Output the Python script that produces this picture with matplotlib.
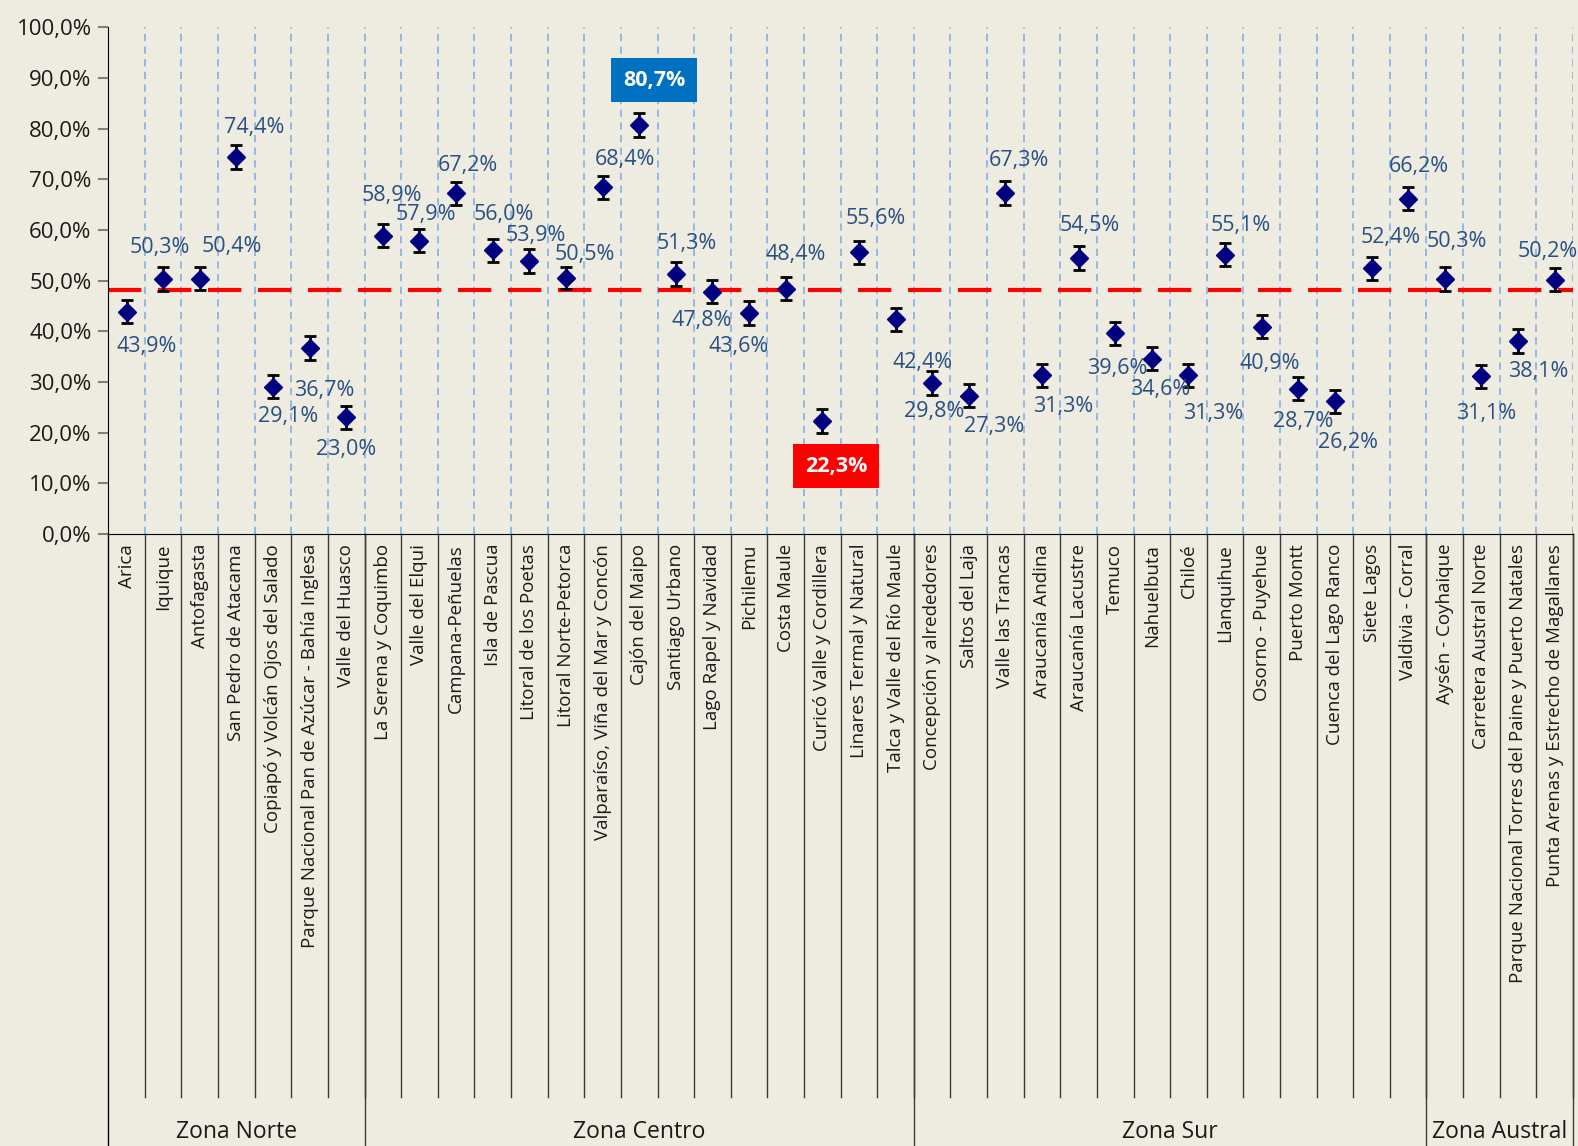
import matplotlib.pyplot as plt
import matplotlib.transforms as mtransforms
from matplotlib.ticker import FuncFormatter

categories = ["Arica", "Iquique", "Antofagasta", "San Pedro de Atacama",
              "Copiapó y Volcán Ojos del Salado", "Parque Nacional Pan de Azúcar - Bahía Inglesa",
              "Valle del Huasco", "La Serena y Coquimbo", "Valle del Elqui", "Campana-Peñuelas",
              "Isla de Pascua", "Litoral de los Poetas", "Litoral Norte-Petorca",
              "Valparaíso, Viña del Mar y Concón", "Cajón del Maipo", "Santiago Urbano",
              "Lago Rapel y Navidad", "Pichilemu", "Costa Maule", "Curicó Valle y Cordillera",
              "Linares Termal y Natural", "Talca y Valle del Río Maule", "Concepción y alrededores",
              "Saltos del Laja", "Valle las Trancas", "Araucanía Andina", "Araucanía Lacustre",
              "Temuco", "Nahuelbuta", "Chiloé", "Llanquihue", "Osorno - Puyehue", "Puerto Montt",
              "Cuenca del Lago Ranco", "Siete Lagos", "Valdivia - Corral", "Aysén - Coyhaique",
              "Carretera Austral Norte", "Parque Nacional Torres del Paine y Puerto Natales",
              "Punta Arenas y Estrecho de Magallanes"]

values = [43.9, 50.3, 50.4, 74.4, 29.1, 36.7, 23.0, 58.9, 57.9, 67.2,
          56.0, 53.9, 50.5, 68.4, 80.7, 51.3, 47.8, 43.6, 48.4, 22.3,
          55.6, 42.4, 29.8, 27.3, 67.3, 31.3, 54.5, 39.6, 34.6, 31.3,
          55.1, 40.9, 28.7, 26.2, 52.4, 66.2, 50.3, 31.1, 38.1, 50.2]

errors = [2.3, 2.3, 2.3, 2.4, 2.3, 2.3, 2.3, 2.3, 2.3, 2.3,
          2.3, 2.3, 2.2, 2.3, 2.4, 2.3, 2.3, 2.3, 2.3, 2.3,
          2.3, 2.3, 2.3, 2.3, 2.3, 2.3, 2.3, 2.3, 2.3, 2.3,
          2.3, 2.3, 2.3, 2.3, 2.3, 2.3, 2.3, 2.3, 2.3, 2.3]

average = 48.2

zones = ["Zona Norte", "Zona Centro", "Zona Sur", "Zona Austral"]
zone_sizes = [7, 15, 14, 4]

# label offsets in pixels (dx right, dy down) from the marker
label_offsets = [(20, 35), (-3, -32), (32, -32), (18, -30), (15, 30), (15, 42), (0, 32),
                 (9, -40), (6, -26), (12, -28), (11, -36), (6, -25), (19, -24), (22, -28),
                 (15, -45), (11, -31), (-11, 29), (-10, 33), (10, -34), (14, 45), (17, -34),
                 (27, 43), (2, 28), (25, 31), (14, -32), (21, 31), (11, -32), (2, 35),
                 (8, 31), (25, 38), (16, -29), (8, 37), (5, 33), (13, 41), (19, -31),
                 (11, -32), (12, -38), (5, 37), (20, 31), (-7, -28)]

max_idx = values.index(max(values))
min_idx = values.index(min(values))

bg = "#EEEBE0"
font = "Open Sans"
plt.rcParams['font.family'] = [font, 'DejaVu Sans']

fig = plt.figure(figsize=(15.78, 11.46), dpi=100, facecolor=bg)
ax = fig.add_axes([0.0686, 0.534, 0.9282, 0.4422])
ax.set_facecolor(bg)

n = len(categories)
x = list(range(n))

ax.axhline(average, color="#FF0000", lw=3, ls=(0, (8, 4)), zorder=2)

for b in range(1, n + 1):
    ax.axvline(b - 0.5, color="#8DB4E2", lw=1.3, ls=(0, (4, 3)), zorder=1)

ax.errorbar(x, values, yerr=errors, fmt="D", color="#000080", markersize=9,
            ecolor="black", elinewidth=2, capsize=4.5, capthick=2, zorder=4)

for i, (v, (dx, dy)) in enumerate(zip(values, label_offsets)):
    txt = f"{v:.1f}%".replace(".", ",")
    if i == max_idx or i == min_idx:
        fc = "#0070C0" if i == max_idx else "#FF0000"
        ax.annotate(txt, (i, v), xytext=(dx, -dy), textcoords="offset pixels",
                    ha="center", va="center", fontsize=15.5, fontweight="bold", color="white",
                    bbox=dict(boxstyle="square,pad=0.55", fc=fc, ec="none"), zorder=5)
    else:
        ax.annotate(txt, (i, v), xytext=(dx, -dy), textcoords="offset pixels",
                    ha="center", va="center", fontsize=15.5, color="#285082", zorder=5)

ax.set_xlim(-0.5, n - 0.5)
ax.set_ylim(0, 100)
ax.set_yticks(range(0, 101, 10))
ax.yaxis.set_major_formatter(FuncFormatter(lambda v, p: f"{v:.1f}%".replace(".", ",")))
ax.tick_params(axis="y", length=7, width=1.5, color="#808080", labelsize=16, pad=5,
               labelcolor="#1a1a1a")
ax.set_xticks(x)
ax.set_xticklabels(categories, rotation=90, fontsize=13.5, color="#1a1a1a")
ax.tick_params(axis="x", length=0, pad=7)

for s in ["top", "right"]:
    ax.spines[s].set_visible(False)
ax.spines["left"].set_color("black")
ax.spines["bottom"].set_color("black")
ax.spines["left"].set_bounds(0, 100)

# category separators and zone separators below the axis
trans = mtransforms.blended_transform_factory(ax.transData, ax.transAxes)
sep_bottom = -1.111
fig_bottom = -1.21
ax.plot([-0.5, -0.5], [0, fig_bottom], color="black", lw=1, transform=trans, clip_on=False)
for b in range(1, n + 1):
    ax.plot([b - 0.5, b - 0.5], [0, sep_bottom], color="#3a3a3a", lw=1,
            transform=trans, clip_on=False)

start = 0
for zone, size in zip(zones, zone_sizes):
    end = start + size
    ax.plot([end - 0.5, end - 0.5], [0, fig_bottom], color="#3a3a3a", lw=1,
            transform=trans, clip_on=False)
    ax.text((start + end - 1) / 2, -1.18, zone, transform=trans, ha="center", va="center",
            fontsize=16.5, color="#1a1a1a")
    start = end

fig.savefig("out.png", dpi=100, facecolor=bg)
